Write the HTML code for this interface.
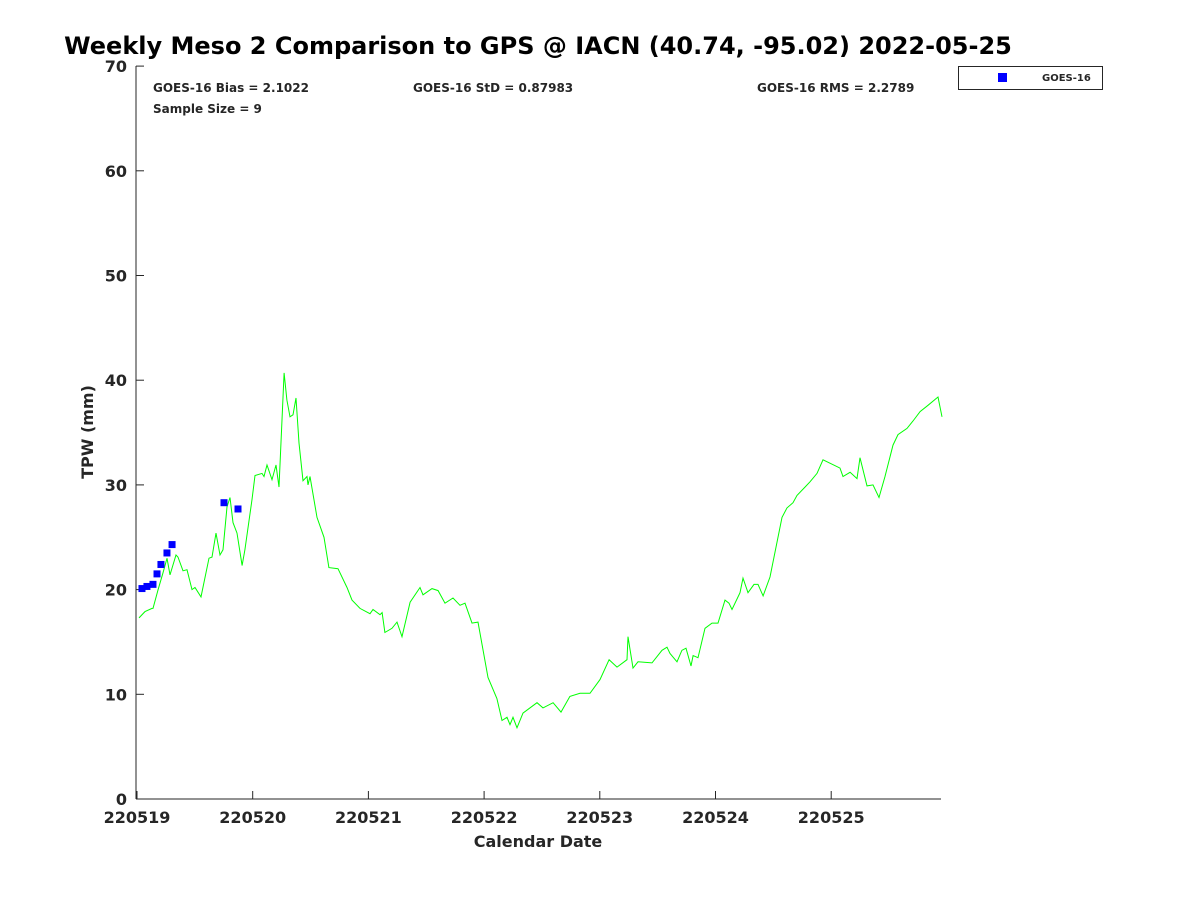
<!DOCTYPE html>
<html><head><meta charset="utf-8"><style>
body{margin:0;background:#fff;font-family:"Liberation Sans",sans-serif}
svg text{font-family:"DejaVu Sans","Liberation Sans",sans-serif;font-weight:bold;fill:#262626}
</style></head><body>
<svg id="chart" width="1200" height="900" xmlns="http://www.w3.org/2000/svg">
<text x="538" y="54" text-anchor="middle" font-size="24" style="fill:#000">Weekly Meso 2 Comparison to GPS @ IACN (40.74, -95.02) 2022-05-25</text>
<rect x="136" y="66" width="805" height="733" fill="#fff"/>
<g id="ticks"></g>
<g id="series"></g>
<line x1="136" y1="66" x2="136" y2="799" stroke="#262626" stroke-width="1"/>
<line x1="136" y1="799" x2="941" y2="799" stroke="#262626" stroke-width="1"/>
<text x="153" y="92" font-size="12">GOES-16 Bias = 2.1022</text>
<text x="413" y="92" font-size="12">GOES-16 StD = 0.87983</text>
<text x="757" y="92" font-size="12">GOES-16 RMS = 2.2789</text>
<text x="153" y="113" font-size="12">Sample Size = 9</text>
<text transform="translate(93,432) rotate(-90)" text-anchor="middle" font-size="16">TPW (mm)</text>
<text x="538" y="847" text-anchor="middle" font-size="16">Calendar Date</text>
<g>
<rect x="958.5" y="66.5" width="144" height="23" fill="#fff" stroke="#262626"/>
<rect x="998" y="73" width="9" height="9" fill="#0000ff"/>
<text x="1042" y="81" font-size="10">GOES-16</text>
</g>
</svg>
<script>
const xTicks=[0,1,2,3,4,5,6];
const xTickLabels=["220519","220520","220521","220522","220523","220524","220525"];
const yTicks=[0,10,20,30,40,50,60,70];
const gpsDays=[0.017,0.069,0.130,0.138,0.182,0.225,0.259,0.285,0.337,0.354,0.398,0.432,0.475,0.501,0.553,0.622,0.648,0.683,0.717,0.743,0.778,0.804,0.830,0.864,0.908,0.933,0.994,1.020,1.080,1.098,1.124,1.167,1.201,1.227,1.271,1.296,1.322,1.348,1.374,1.400,1.435,1.469,1.478,1.495,1.556,1.616,1.659,1.737,1.815,1.858,1.927,2.014,2.040,2.100,2.118,2.143,2.204,2.247,2.290,2.360,2.446,2.472,2.550,2.602,2.662,2.731,2.792,2.835,2.895,2.947,3.034,3.111,3.155,3.198,3.224,3.250,3.284,3.336,3.457,3.509,3.596,3.665,3.742,3.829,3.915,4.002,4.080,4.149,4.235,4.244,4.287,4.330,4.451,4.538,4.581,4.607,4.667,4.710,4.745,4.788,4.806,4.849,4.909,4.970,5.022,5.082,5.117,5.143,5.212,5.238,5.281,5.333,5.367,5.411,5.471,5.575,5.618,5.670,5.704,5.774,5.817,5.877,5.929,6.076,6.102,6.163,6.223,6.249,6.309,6.361,6.413,6.465,6.534,6.577,6.655,6.707,6.768,6.837,6.923,6.958];
const gpsTpw=[17.3,17.9,18.2,18.2,20.0,21.6,23.0,21.4,23.3,23.1,21.8,21.9,20.0,20.2,19.3,23.0,23.1,25.4,23.3,23.8,27.9,28.8,26.4,25.4,22.3,23.8,28.6,30.9,31.1,30.8,31.9,30.5,31.9,29.8,40.7,38.1,36.5,36.7,38.3,34.0,30.4,30.8,30.0,30.8,26.9,25.0,22.1,22.0,20.2,19.0,18.2,17.7,18.1,17.6,17.8,15.9,16.3,16.9,15.5,18.8,20.2,19.5,20.1,19.9,18.7,19.2,18.5,18.7,16.8,16.9,11.6,9.6,7.5,7.8,7.1,7.8,6.8,8.2,9.2,8.7,9.2,8.3,9.8,10.1,10.1,11.4,13.3,12.6,13.3,15.5,12.5,13.1,13.0,14.2,14.5,13.9,13.1,14.2,14.4,12.7,13.7,13.5,16.3,16.8,16.8,19.0,18.7,18.1,19.7,21.1,19.7,20.5,20.5,19.4,21.2,26.9,27.8,28.3,29.0,29.8,30.3,31.1,32.4,31.6,30.8,31.2,30.6,32.6,29.9,30.0,28.8,30.8,33.8,34.8,35.4,36.1,37.0,37.6,38.4,36.5];
const goesDays=[0.043,0.086,0.138,0.173,0.207,0.259,0.303,0.752,0.873];
const goesTpw=[20.1,20.3,20.5,21.5,22.4,23.5,24.3,28.3,27.7];

const NS='http://www.w3.org/2000/svg';
const X0=137,XS=115.7,Y0=799,YS=10.47;
function xs(d){return X0+d*XS;}
function ys(v){return Y0-v*YS;}
const tg=document.getElementById('ticks'),sg=document.getElementById('series');
function mk(tag,attrs,parent){const e=document.createElementNS(NS,tag);for(const k in attrs)e.setAttribute(k,attrs[k]);parent.appendChild(e);return e;}
xTicks.forEach((t,i)=>{
  const x=xs(t);
  const l=mk('line',{x1:x,y1:799,x2:x,y2:791,stroke:'#262626'},tg);
  
  
  const tx=mk('text',{x:x,y:823,'text-anchor':'middle','font-size':16},tg);
  
  
  tx.textContent=xTickLabels[i];
});
yTicks.forEach(t=>{
  const y=ys(t);
  const l=mk('line',{x1:136,y1:y,x2:144,y2:y,stroke:'#262626'},tg);
  
  
  const tx=mk('text',{x:127,y:y+6,'text-anchor':'end','font-size':16},tg);
  
  
  tx.textContent=t;
});
const pts=gpsDays.map((d,i)=>xs(d).toFixed(1)+','+ys(gpsTpw[i]).toFixed(1)).join(' ');
const pl=mk('polyline',{points:pts,fill:'none',stroke:'#00ff00','stroke-width':1},sg);


goesDays.forEach((d,i)=>{
  const r=mk('rect',{x:xs(d)-3.5,y:ys(goesTpw[i])-3.5,width:7,height:7,fill:'#0000ff'},sg);
  
  
});
</script>
</body></html>
